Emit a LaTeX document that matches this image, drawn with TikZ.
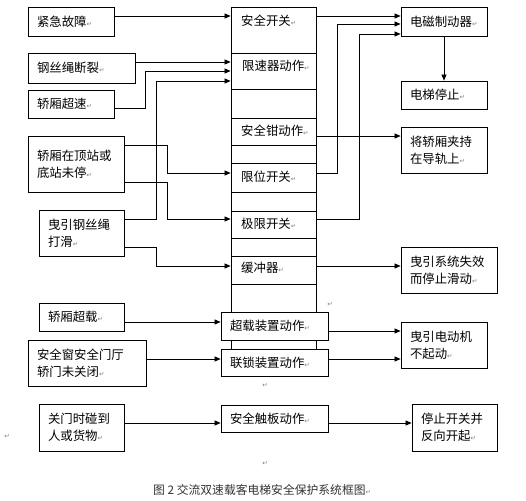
\documentclass[tikz,border=0pt]{standalone}
\usepackage{fontspec}
\newfontfamily\cjk{Noto Sans CJK SC}
\newfontfamily\djv{DejaVu Sans}
\usetikzlibrary{arrows.meta}
\newcommand\retmark{{\djv\fontsize{6.5}{6.5}\selectfont\color{black!50}↵}}
\newcommand\mybox[6]{%
  \pgfmathsetmacro\bw{#4-#2}\pgfmathsetmacro\bh{#5-#3}\pgfmathsetmacro\tw{#4-#2-18}%
  \node[box, minimum width=\bw pt, minimum height=\bh pt, text width=\tw pt] (#1) at ({(#2+#4)/2},{(#3+#5)/2}) {#6};}
\tikzset{
  box/.style={draw, line width=0.8pt, inner xsep=9pt, inner ysep=0pt, align=left, font=\cjk\fontsize{12.4}{17}\selectfont},
  txt/.style={inner sep=0pt, anchor=west, font=\cjk\fontsize{12.4}{17}\selectfont},
  arr/.style={line width=0.7pt, -{Triangle[length=6pt,width=5pt]}},
}
\begin{document}
\begin{tikzpicture}[x=1pt, y=-1pt]
\useasboundingbox (0,0) rectangle (526,500);
\foreach \v in {16,24,34,62,71,81,108,136,145,173,182,219,247,266,322,331,359,423} \coordinate (y\v) at (0,\v);
\foreach \v in {145,156,167,337,359} \coordinate (x\v) at (\v,0);
% left boxes
\mybox{L1}{28}{7}{114}{36}{紧急故障\retmark}
\mybox{L2}{28}{53}{135}{83}{钢丝绳断裂\retmark}
\mybox{L3}{28}{90}{114}{118}{轿厢超速\retmark}
\mybox{L4}{28}{136}{124}{192}{轿厢在顶站或\\底站未停\retmark}
\mybox{L5}{39}{210}{124}{256}{曳引钢丝绳\\打滑\retmark}
\mybox{L6}{39}{303}{124}{331}{轿厢超载\retmark}
\mybox{L7}{28}{340}{146}{386}{安全窗安全门厅\\轿门未关闭\retmark}
\mybox{L8}{39}{404}{124}{451}{关门时碰到\\人或货物\retmark}
% central column
\mybox{c1}{231}{7}{316}{53}{}
\mybox{c2}{231}{53}{316}{89}{}
\mybox{e1}{231}{89}{316}{118}{}
\mybox{c3}{231}{118}{316}{145}{}
\mybox{e2}{231}{145}{316}{163}{}
\mybox{c4}{231}{163}{316}{192}{}
\mybox{e3}{231}{192}{316}{211}{}
\mybox{c5}{231}{211}{316}{238}{}
\mybox{e4}{231}{238}{316}{256}{}
\mybox{c6}{231}{256}{316}{284}{}
\mybox{e5}{231}{284}{316}{312}{}
\mybox{e6}{231}{340}{316}{349}{}
\node[txt] (t1) at (241,21) {安全开关\retmark};
\node[txt] (t2) at (242,66) {限速器动作\retmark};
\node[txt] (t3) at (241,131) {安全钳动作\retmark};
\node[txt] (t4) at (241,177) {限位开关\retmark};
\node[txt] (t5) at (241,224) {极限开关\retmark};
\node[txt] (t6) at (241,268) {缓冲器\retmark};
\mybox{b1}{221}{312}{328}{340}{超载装置动作\retmark}
\mybox{b2}{221}{349}{328}{376}{联锁装置动作\retmark}
\mybox{b3}{221}{405}{328}{432}{安全触板动作\retmark}
% right boxes
\mybox{R1}{401}{7}{487}{36}{电磁制动器\retmark}
\mybox{R2}{401}{81}{487}{109}{电梯停止\retmark}
\mybox{R3}{401}{127}{487}{173}{将轿厢夹持\\在导轨上\retmark}
\mybox{R4}{401}{247}{497}{293}{曳引系统失效\\而停止滑动\retmark}
\mybox{R5}{401}{322}{487}{368}{曳引电动机\\不起动\retmark}
\mybox{R6}{412}{404}{497}{451}{停止开关并\\反向开起\retmark}
% left connectors
\draw[arr] (L1.east |- y16) -- (c1.west |- y16);
\draw[arr] (L2.east |- y62) -- (c2.west |- y62);
\draw[arr] (L3.east |- y108) -| (x145 |- y71) -- (c2.west |- y71);
\draw[arr] (L5.east |- y219) -| (x156 |- y81) -- (c2.west |- y81);
\draw[arr] (L4.east |- y145) -| (x167 |- y173) -- (c4.west |- y173);
\draw[arr] (L4.east |- y182) -| (x167 |- y219) -- (c5.west |- y219);
\draw[arr] (L5.east |- y247) -| (x156 |- y266) -- (c6.west |- y266);
\draw[arr] (L6.east |- y322) -- (b1.west |- y322);
\draw[arr] (L7.east |- y359) -- (b2.west |- y359);
\draw[arr] (L8.east |- y423) -- (b3.west |- y423);
% right connectors
\draw[arr] (c1.east |- y16) -- (R1.west |- y16);
\draw[arr] (c4.east |- y173) -| (x337 |- y24) -- (R1.west |- y24);
\draw[arr] (c5.east |- y219) -| (x359 |- y34) -- (R1.west |- y34);
\draw[arr] (c3.east |- y136) -- (R3.west |- y136);
\draw[arr] (c6.east |- y266) -- (R4.west |- y266);
\draw[arr] (R1.south) -- (R2.north);
\draw[arr] (b1.east |- y331) -- (R5.west |- y331);
\draw[arr] (b2.east |- y359) -- (R5.west |- y359);
\draw[arr] (b3.east |- y423) -- (R6.west |- y423);
% stray marks and caption
\node[inner sep=0pt] (m1) at (330,304) {\retmark};
\node[inner sep=0pt] (m2) at (265,385) {\retmark};
\node[inner sep=0pt] (m3) at (265,463) {\retmark};
\node[inner sep=0pt] (m4) at (7,436) {\retmark};
\node[txt, font=\cjk\fontsize{11.8}{12}\selectfont, text=black!80] (cap) at (153,490) {图 2 交流双速载客电梯安全保护系统框图\retmark};
\end{tikzpicture}
\end{document}
